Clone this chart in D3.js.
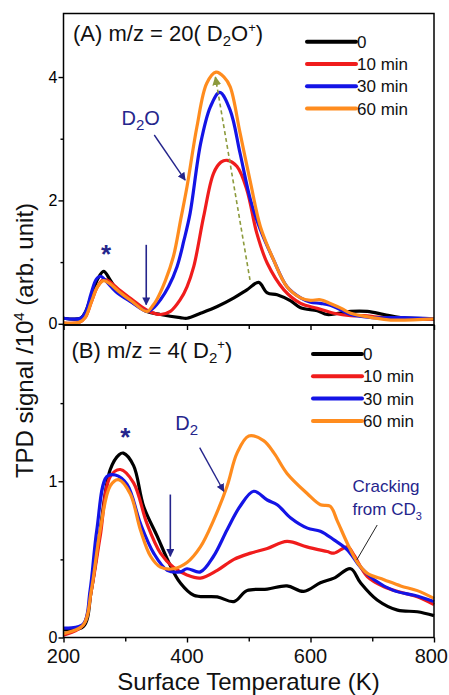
<!DOCTYPE html>
<html lang="en">
<head>
    <meta charset="UTF-8">
    <title>TPD spectra</title>
    <script src="https://d3js.org/d3.v7.min.js"></script>
    <style>
        body { margin: 0; background: #fff; }
        text { font-family: "Liberation Sans", Arial, sans-serif; }
    </style>
</head>
<body>
<svg width="449" height="695"></svg>
<script>
    // ---- data ----
    let exposures = ["0", "10 min", "30 min", "60 min"]
    let colors = ["#000000", "#f01c1c", "#1414e6", "#ff8c1e"]
    let xTicks = [200, 400, 600, 800]

    // panel A, m/z = 20
    let tA0 = [200, 228, 236, 245, 255, 265, 275, 286, 300, 313, 335, 357, 389, 400, 422, 449, 476, 497, 516, 530, 546, 568, 584, 611, 627, 645, 665, 692, 719, 746, 800]
    let vA0 = [0.09, 0.09, 0.2, 0.45, 0.72, 0.85, 0.72, 0.55, 0.43, 0.34, 0.2, 0.15, 0.1, 0.09, 0.17, 0.28, 0.42, 0.55, 0.67, 0.5, 0.47, 0.37, 0.26, 0.21, 0.15, 0.17, 0.2, 0.2, 0.15, 0.1, 0.08]
    let tA10 = [200, 225, 235, 245, 255, 265, 275, 290, 310, 335, 357, 373, 389, 400, 411, 427, 443, 455, 465, 481, 497, 513, 530, 557, 584, 611, 638, 665, 692, 730, 800]
    let vA10 = [0.01, 0.02, 0.1, 0.35, 0.6, 0.72, 0.68, 0.55, 0.4, 0.22, 0.15, 0.2, 0.39, 0.6, 0.93, 1.74, 2.44, 2.62, 2.65, 2.55, 2.17, 1.47, 0.98, 0.55, 0.33, 0.25, 0.17, 0.13, 0.13, 0.08, 0.07]
    let tA30 = [200, 228, 236, 245, 253, 260, 270, 285, 310, 335, 345, 357, 370, 384, 395, 405, 422, 438, 453, 470, 486, 503, 519, 540, 562, 584, 600, 616, 632, 650, 665, 700, 750, 800]
    let vA30 = [0.09, 0.09, 0.2, 0.5, 0.72, 0.77, 0.68, 0.52, 0.35, 0.2, 0.25, 0.39, 0.6, 0.93, 1.35, 1.79, 2.92, 3.52, 3.75, 3.46, 2.76, 2.0, 1.52, 1.04, 0.6, 0.42, 0.35, 0.33, 0.3, 0.22, 0.15, 0.1, 0.1, 0.08]
    let tA60 = [200, 225, 235, 245, 255, 265, 275, 290, 310, 335, 345, 351, 365, 378, 390, 400, 416, 432, 447, 460, 470, 486, 503, 519, 540, 562, 584, 600, 616, 632, 650, 665, 700, 730, 800]
    let vA60 = [0.01, 0.02, 0.1, 0.35, 0.6, 0.7, 0.65, 0.52, 0.37, 0.2, 0.3, 0.39, 0.7, 1.09, 1.7, 2.22, 3.19, 3.9, 4.08, 4.0, 3.84, 3.09, 2.28, 1.57, 1.04, 0.6, 0.42, 0.38, 0.39, 0.33, 0.25, 0.17, 0.1, 0.06, 0.08]

    // panel B, m/z = 4
    let tB0 = [200, 232, 245, 259.5, 275.7, 290, 297, 313.5, 329.7, 351.5, 373, 389, 411, 449, 476, 497, 530, 562, 589, 616, 638, 665, 681, 708, 741, 773, 800]
    let vB0 = [0.05, 0.07, 0.3, 0.69, 1.075, 1.17, 1.18, 1.1, 0.84, 0.65, 0.46, 0.35, 0.27, 0.26, 0.23, 0.3, 0.31, 0.33, 0.295, 0.35, 0.38, 0.44, 0.35, 0.24, 0.175, 0.165, 0.14]
    let tB10 = [200, 232, 245, 259.5, 275.7, 292, 313.5, 335, 357, 378, 400, 421.7, 449, 476, 503, 530, 562, 594, 627, 638, 660, 670, 692, 719, 746, 773, 800]
    let vB10 = [0.015, 0.08, 0.3, 0.65, 1.03, 1.075, 0.99, 0.73, 0.54, 0.45, 0.4, 0.38, 0.43, 0.5, 0.54, 0.57, 0.615, 0.58, 0.55, 0.54, 0.58, 0.53, 0.39, 0.325, 0.29, 0.26, 0.21]
    let tB30 = [200, 232, 243, 254, 270, 284, 303, 324.5, 346, 368, 389, 400, 421.7, 443, 465, 486, 508, 530, 546, 568, 595, 616, 638, 660, 681, 703, 735, 768, 800]
    let vB30 = [0.06, 0.085, 0.3, 0.69, 1.03, 1.04, 0.98, 0.73, 0.54, 0.43, 0.42, 0.44, 0.42, 0.52, 0.69, 0.84, 0.936, 0.88, 0.85, 0.765, 0.7, 0.68, 0.625, 0.56, 0.45, 0.37, 0.3, 0.27, 0.23]
    let tB60 = [200, 232, 245, 259.5, 275.7, 289, 308, 324.5, 341, 357, 378, 400, 421.7, 443, 465, 481, 500, 524, 541, 562, 595, 616, 632, 643, 660, 676, 692, 719, 746, 773, 800]
    let vB60 = [0.025, 0.08, 0.3, 0.69, 0.97, 1.01, 0.92, 0.69, 0.52, 0.45, 0.44, 0.48, 0.58, 0.75, 0.97, 1.18, 1.29, 1.26, 1.18, 1.05, 0.92, 0.85, 0.84, 0.75, 0.6, 0.48, 0.41, 0.37, 0.33, 0.3, 0.25]

    let svg = d3.select('svg')
    let navy = "#25258c"
    let left = 63.5, right = 434

    let x = d3.scaleLinear().domain([200, 800]).range([left, right])
    let yA = d3.scaleLinear().domain([-0.02, 5.03]).range([325, 13.5])
    let yB = d3.scaleLinear().domain([0, 2]).range([637.5, 325])

    // arrow markers
    let defs = svg.append("defs")
    function marker(id, col, w) {
        defs.append("marker").attr("id", id)
            .attr("viewBox", "0 0 10 10").attr("refX", 9).attr("refY", 5)
            .attr("markerWidth", w).attr("markerHeight", w)
            .attr("markerUnits", "userSpaceOnUse")
            .attr("orient", "auto")
            .append("path").attr("d", "M0,0 L10,5 L0,10 z").attr("fill", col)
    }
    marker("arNavy", navy, 8)
    marker("arOlive", "#8c9a3c", 9)

    function panel(y, series, yMajor, yMinor, label, sub, legendX, legendY) {
        let g = svg.append("g")
        let line = d3.line().x(d => x(d[0])).y(d => y(d[1])).curve(d3.curveCatmullRom)
        series.forEach((s, i) => {
            g.append("path")
                .datum(d3.zip(s[0], s[1]))
                .attr("d", line)
                .attr("fill", "none")
                .attr("stroke", colors[i])
                .attr("stroke-width", 3.2)
                .attr("stroke-linejoin", "round")
        })

        // frame
        let yr = y.range()
        g.append("rect")
            .attr("x", left).attr("y", yr[1])
            .attr("width", right - left).attr("height", yr[0] - yr[1])
            .attr("fill", "none").attr("stroke", "#000").attr("stroke-width", 1.5)

        // axes
        let yAxis = g.append("g").attr("transform", `translate(${left},0)`)
            .call(d3.axisLeft(y).tickValues(yMajor).tickSize(5).tickPadding(1).tickFormat(d3.format("d")))
        yAxis.selectAll("text").style("font-size", "16px")
        g.append("g").attr("transform", `translate(${left},0)`)
            .call(d3.axisLeft(y).tickValues(yMinor).tickSize(3).tickFormat(""))
        g.append("g").attr("transform", `translate(0,${yr[0]})`)
            .call(d3.axisBottom(x).tickValues(xTicks).tickSize(5).tickFormat(""))
        g.append("g").attr("transform", `translate(0,${yr[0]})`)
            .call(d3.axisBottom(x).tickValues([300, 500, 700]).tickSize(4).tickFormat(""))
        g.selectAll(".domain").remove()
        g.selectAll(".tick line").attr("stroke-width", 1.4)

        // panel label
        let t = g.append("text").attr("x", label[0]).attr("y", label[1])
            .style("font-size", "22px").attr("fill", "#111")
        t.append("tspan").text(label[2])
        sub(t)

        // legend
        exposures.forEach((e, i) => {
            let ly = legendY + i * 22.3
            g.append("line")
                .attr("x1", legendX).attr("x2", legendX + 49)
                .attr("y1", ly).attr("y2", ly)
                .attr("stroke", colors[i]).attr("stroke-width", 4)
                .attr("stroke-linecap", "round")
            g.append("text").attr("x", legendX + 50).attr("y", ly + 6)
                .style("font-size", "17px").attr("fill", "#111").text(e)
        })
        return g
    }

    let gA = panel(yA, [[tA0, vA0], [tA10, vA10], [tA30, vA30], [tA60, vA60]],
        [0, 2, 4], [1, 3], [73, 41, "(A) m/z = 20( D"], function (t) {
            t.append("tspan").attr("dy", 5).style("font-size", "15px").text("2")
            t.append("tspan").attr("dy", -5).text("O")
            t.append("tspan").attr("dy", -9).style("font-size", "13px").text("+")
            t.append("tspan").attr("dy", 9).text(")")
        }, 307, 41.7)

    let gB = panel(yB, [[tB0, vB0], [tB10, vB10], [tB30, vB30], [tB60, vB60]],
        [0, 1], [0.5, 1.5], [71.5, 358, "(B) m/z = 4( D"], function (t) {
            t.append("tspan").attr("dy", 5).style("font-size", "15px").text("2")
            t.append("tspan").attr("dy", -14).style("font-size", "13px").text("+")
            t.append("tspan").attr("dy", 9).text(")")
        }, 313, 354)

    // x tick labels (bottom only); the last one is pulled in so it stays inside the page
    xTicks.forEach((d, i) => {
        svg.append("text").attr("x", i === xTicks.length - 1 ? 448 : x(d)).attr("y", 663)
            .attr("text-anchor", i === xTicks.length - 1 ? "end" : "middle")
            .style("font-size", "20px").attr("fill", "#111").text(d)
    })

    // axis titles
    svg.append("text").attr("x", 248.5).attr("y", 690)
        .attr("text-anchor", "middle").style("font-size", "24px").attr("fill", "#111")
        .text("Surface Temperature (K)")
    let yt = svg.append("text")
        .attr("transform", "translate(33,340.5) rotate(-90)")
        .attr("text-anchor", "middle").style("font-size", "24px").attr("fill", "#111")
    yt.append("tspan").text("TPD signal  /10")
    yt.append("tspan").attr("dy", -9).style("font-size", "15px").text("4")
    yt.append("tspan").attr("dy", 9).text(" (arb. unit)")

    // ---- annotations (data coordinates) ----
    function arrow(g, y, p, col, marker, dash, w) {
        g.append("line")
            .attr("x1", x(p[0])).attr("y1", y(p[1]))
            .attr("x2", x(p[2])).attr("y2", y(p[3]))
            .attr("stroke", col).attr("stroke-width", w)
            .attr("stroke-dasharray", dash)
            .attr("marker-end", marker ? `url(#${marker})` : null)
    }
    arrow(gA, yA, [334, 1.28, 334, 0.31], navy, "arNavy", null, 1.6)
    arrow(gA, yA, [347, 3.06, 397, 2.33], navy, "arNavy", null, 1.4)
    arrow(gA, yA, [502, 0.71, 446, 4.0], "#8c9a3c", "arOlive", "4,3", 1.6)
    arrow(gB, yB, [373, 0.915, 373, 0.52], navy, "arNavy", null, 1.6)
    arrow(gB, yB, [420.5, 1.215, 459.5, 0.936], navy, "arNavy", null, 1.4)
    arrow(gB, yB, [708, 0.72, 675, 0.497], "#222", null, null, 1)

    function star(y, T, v) {
        svg.append("text").attr("x", x(T)).attr("y", y(v) + 13)
            .attr("text-anchor", "middle").style("font-size", "26px").style("font-weight", "bold")
            .attr("fill", navy).text("*")
    }
    star(yA, 269, 1.2)
    star(yB, 300, 1.31)

    let d2o = svg.append("text").attr("x", x(294)).attr("y", yA(3.22))
        .style("font-size", "20px").attr("fill", navy)
    d2o.append("tspan").text("D")
    d2o.append("tspan").attr("dy", 5).style("font-size", "15px").text("2")
    d2o.append("tspan").attr("dy", -5).text("O")

    let d2 = svg.append("text").attr("x", x(381)).attr("y", yB(1.33))
        .style("font-size", "20px").attr("fill", navy)
    d2.append("tspan").text("D")
    d2.append("tspan").attr("dy", 5).style("font-size", "15px").text("2")

    svg.append("text").attr("x", x(668)).attr("y", yB(0.93))
        .style("font-size", "17px").attr("fill", navy).text("Cracking")
    let cd = svg.append("text").attr("x", x(668)).attr("y", yB(0.785))
        .style("font-size", "17px").attr("fill", navy)
    cd.append("tspan").text("from CD")
    cd.append("tspan").attr("dy", 5).style("font-size", "11px").text("3")
</script>
</body>
</html>
